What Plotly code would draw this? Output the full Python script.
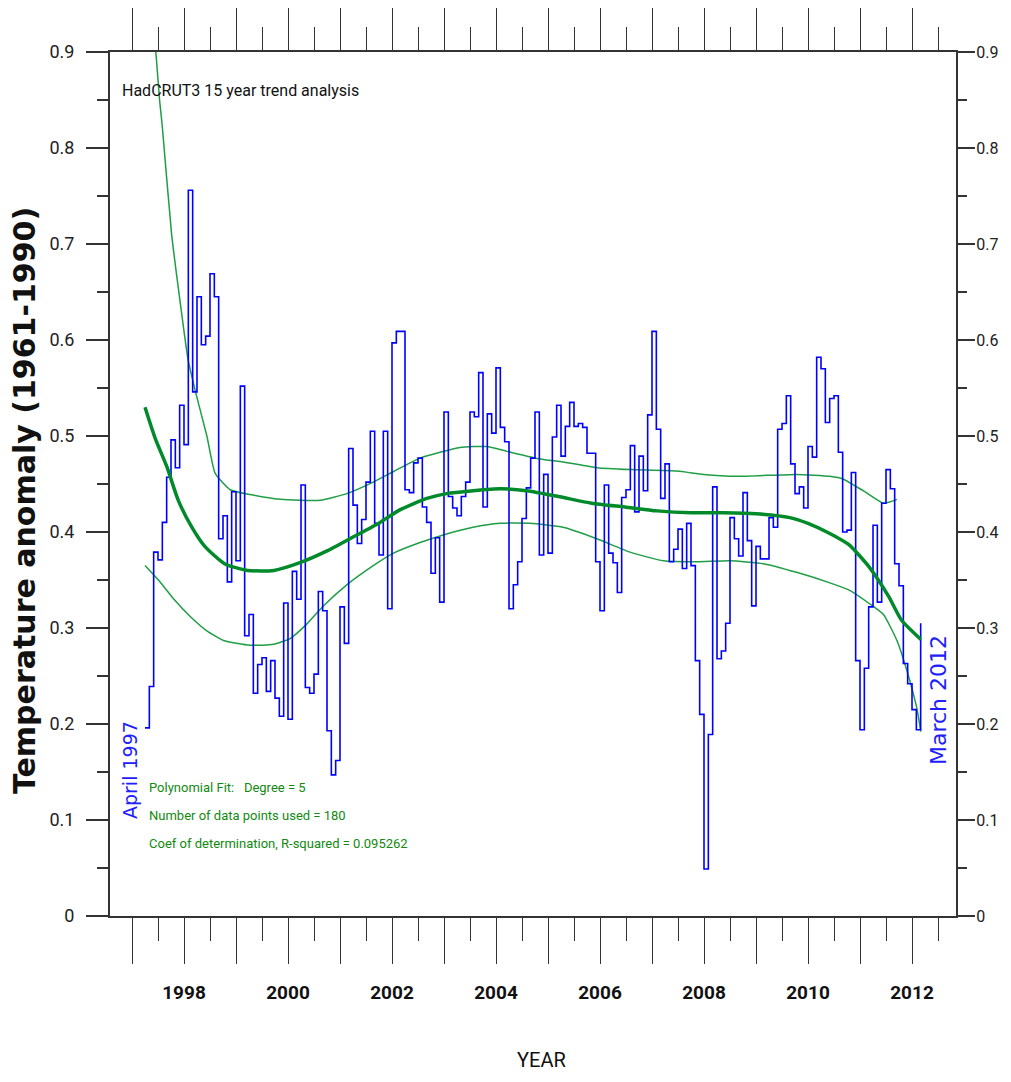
import plotly.graph_objects as go

# HadCRUT3 monthly global anomaly, April 1997 .. March 2012 (180 months)
hadcrut3 = [
    0.196, 0.239, 0.379, 0.371, 0.410, 0.457, 0.496, 0.467, 0.532,                  # 1997 Apr-Dec
    0.491, 0.756, 0.546, 0.645, 0.595, 0.604, 0.669, 0.645, 0.393, 0.417, 0.348, 0.442,  # 1998
    0.370, 0.552, 0.292, 0.314, 0.232, 0.262, 0.269, 0.234, 0.266, 0.227, 0.208, 0.326,  # 1999
    0.205, 0.359, 0.330, 0.449, 0.238, 0.232, 0.252, 0.338, 0.318, 0.193, 0.147, 0.162,  # 2000
    0.322, 0.284, 0.487, 0.428, 0.388, 0.413, 0.452, 0.505, 0.409, 0.376, 0.505, 0.320,  # 2001
    0.597, 0.609, 0.609, 0.444, 0.441, 0.472, 0.477, 0.426, 0.410, 0.357, 0.394, 0.327,  # 2002
    0.525, 0.437, 0.425, 0.417, 0.437, 0.452, 0.525, 0.520, 0.566, 0.426, 0.523, 0.503,  # 2003
    0.571, 0.509, 0.494, 0.320, 0.345, 0.369, 0.414, 0.446, 0.477, 0.525, 0.376, 0.460,  # 2004
    0.378, 0.499, 0.532, 0.479, 0.510, 0.535, 0.510, 0.513, 0.509, 0.482, 0.482, 0.369,  # 2005
    0.318, 0.449, 0.378, 0.368, 0.337, 0.436, 0.444, 0.490, 0.421, 0.479, 0.443, 0.522,  # 2006
    0.609, 0.507, 0.435, 0.471, 0.369, 0.382, 0.403, 0.362, 0.409, 0.365, 0.266, 0.210,  # 2007
    0.049, 0.189, 0.447, 0.268, 0.276, 0.305, 0.415, 0.393, 0.375, 0.441, 0.391, 0.323,  # 2008
    0.385, 0.372, 0.372, 0.415, 0.405, 0.507, 0.513, 0.542, 0.471, 0.440, 0.447, 0.425,  # 2009
    0.489, 0.478, 0.582, 0.570, 0.514, 0.539, 0.542, 0.483, 0.400, 0.402, 0.462, 0.266,  # 2010
    0.194, 0.258, 0.322, 0.407, 0.327, 0.430, 0.465, 0.445, 0.367, 0.344, 0.263, 0.242,  # 2011
    0.215, 0.194, 0.305,                                                             # 2012 Jan-Mar
]
first_year, first_month = 1997, 4
month_x = [first_year + (first_month - 1 + i) / 12 for i in range(len(hadcrut3))]

# polynomial fit (degree 5)
fit_year = [1997.25, 1997.45, 1997.67, 1997.89, 1998.15, 1998.40, 1998.78, 1999.22, 1999.73,
            2000.23, 2000.74, 2001.26, 2001.77, 2002.15, 2002.67, 2003.05, 2003.56, 2004.08,
            2004.59, 2005.20, 2005.84, 2006.48, 2007.10, 2007.75, 2008.37, 2009.00, 2009.65,
            2010.00, 2010.40, 2010.78, 2011.17, 2011.55, 2011.80, 2012.17]
fit_val = [0.530, 0.497, 0.468, 0.433, 0.405, 0.385, 0.367, 0.360, 0.360,
           0.368, 0.380, 0.395, 0.410, 0.423, 0.435, 0.440, 0.443, 0.445,
           0.443, 0.437, 0.430, 0.426, 0.422, 0.420, 0.420, 0.419, 0.415,
           0.409, 0.399, 0.387, 0.364, 0.333, 0.308, 0.288]

# upper and lower thin curves
upper_year = [1997.43, 1997.53, 1997.58, 1997.76, 1997.92, 1998.08, 1998.24, 1998.44, 1998.60,
              1998.89, 1999.27, 1999.85, 2000.62, 2001.13, 2001.64, 2002.03, 2002.54, 2003.31,
              2003.82, 2004.21, 2004.85, 2005.29, 2005.94, 2006.58, 2007.48, 2007.99, 2008.63,
              2009.78, 2010.42, 2010.68, 2011.06, 2011.45, 2011.71]
upper_val = [0.920, 0.850, 0.824, 0.711, 0.642, 0.579, 0.542, 0.500, 0.461,
             0.444, 0.439, 0.434, 0.433, 0.440, 0.452, 0.463, 0.477, 0.488,
             0.489, 0.484, 0.476, 0.473, 0.467, 0.465, 0.4635, 0.460, 0.458,
             0.460, 0.458, 0.455, 0.443, 0.430, 0.434]

lower_year = [1997.25, 1997.54, 1997.79, 1998.12, 1998.44, 1998.76, 1999.27, 1999.72, 2000.04,
              2000.36, 2000.68, 2001.13, 2001.64, 2002.03, 2002.54, 2003.05, 2003.56, 2004.08,
              2004.65, 2005.29, 2005.94, 2006.58, 2007.22, 2007.86, 2008.50, 2009.14, 2009.78,
              2010.42, 2010.81, 2011.19, 2011.45, 2011.71, 2011.90, 2012.09, 2012.17]
lower_val = [0.365, 0.348, 0.331, 0.312, 0.297, 0.287, 0.282, 0.283, 0.289,
             0.304, 0.323, 0.345, 0.365, 0.378, 0.389, 0.398, 0.405, 0.409,
             0.409, 0.405, 0.393, 0.379, 0.370, 0.369, 0.370, 0.367, 0.358,
             0.347, 0.339, 0.325, 0.314, 0.287, 0.256, 0.217, 0.192]

year_ticks = list(range(1997, 2013))
year_labels = [str(y) if y % 2 == 0 else "" for y in year_ticks]

FONT = "Roboto, Liberation Sans, Arial, sans-serif"
AX = "#333333"
GREEN_TXT = "#118a11"

fig = go.Figure()
fig.add_trace(go.Scatter(x=lower_year, y=lower_val, mode="lines",
                         line=dict(color="#1f9e45", width=1.5, shape="spline", smoothing=0.5),
                         hoverinfo="skip"))
fig.add_trace(go.Scatter(x=upper_year, y=upper_val, mode="lines",
                         line=dict(color="#1f9e45", width=1.5, shape="spline", smoothing=0.5),
                         hoverinfo="skip"))
fig.add_trace(go.Scatter(x=month_x, y=hadcrut3, mode="lines",
                         line=dict(color="#0000ff", width=1.6, shape="hv"),
                         name="HadCRUT3"))
fig.add_trace(go.Scatter(x=fit_year, y=fit_val, mode="lines",
                         line=dict(color="#008a2a", width=3.5, shape="spline", smoothing=0.6),
                         name="Polynomial fit"))
# dummy trace so the right-hand axis gets drawn
fig.add_trace(go.Scatter(x=[None], y=[None], yaxis="y2", showlegend=False))

anns = [
    dict(x=1996.77, y=0.860, text="HadCRUT3 15 year trend analysis", xanchor="left",
         font=dict(family=FONT, size=16, color="#111111")),
    dict(x=1997.29, y=0.134, text="Polynomial Fit:   Degree = 5", xanchor="left",
         font=dict(family=FONT, size=13, color=GREEN_TXT)),
    dict(x=1997.29, y=0.105, text="Number of data points used = 180", xanchor="left",
         font=dict(family=FONT, size=13, color=GREEN_TXT)),
    dict(x=1997.29, y=0.076, text="Coef of determination, R-squared = 0.095262", xanchor="left",
         font=dict(family=FONT, size=13, color=GREEN_TXT)),
    dict(x=1996.96, y=0.152, text="April 1997", textangle=-90,
         font=dict(family="DejaVu Sans, sans-serif", size=19, color="#2020ff")),
    dict(x=2012.5, y=0.225, text="March 2012", textangle=-90,
         font=dict(family="DejaVu Sans, sans-serif", size=22, color="#2020ff")),
    dict(xref="paper", yref="paper", x=-0.1005, y=0.4815, text="Temperature anomaly (1961-1990)",
         textangle=-90, font=dict(family="DejaVu Sans, sans-serif", size=30, color="#111111",
                                   weight="bold")),
    dict(xref="paper", yref="paper", x=0.5095, y=-0.1667, text="YEAR",
         font=dict(family=FONT, size=20, color="#111111")),
]
for a in anns:
    a.setdefault("xref", "x")
    a.setdefault("yref", "y")
    a.setdefault("xanchor", "center")
    a.setdefault("yanchor", "middle")
    a.update(showarrow=False)

yaxis_style = dict(range=[0, 0.9], tickmode="linear", tick0=0, dtick=0.1, ticks="outside",
                   ticklen=22, tickwidth=2, tickcolor=AX, showline=True, linecolor=AX,
                   linewidth=2, showgrid=False, zeroline=False, ticklabelstandoff=8,
                   automargin=False,
                   tickfont=dict(family=FONT, size=18, color="#222222"),
                   minor=dict(tickmode="linear", tick0=0.05, dtick=0.1, ticklen=11,
                              tickwidth=2, tickcolor=AX, ticks="outside"))

# right-hand axis: a bit shorter ticks and smaller labels so they stay inside the page
right_axis = dict(yaxis_style, overlaying="y", side="right", ticklen=17, ticklabelstandoff=-2,
                  tickfont=dict(family=FONT, size=16, color="#222222"),
                  minor=dict(tickmode="linear", tick0=0.05, dtick=0.1, ticklen=9,
                             tickwidth=2, tickcolor=AX, ticks="outside"))

# the page adds an 8px body margin; keep the page inside the window
fig.update_layout(
    width=995, height=1066,
    margin=dict(l=102, r=47, t=44, b=158),
    paper_bgcolor="white", plot_bgcolor="white",
    showlegend=False,
    annotations=anns,
    xaxis=dict(range=[1996.577, 2012.846], tickmode="array", tickvals=year_ticks,
               ticktext=year_labels, ticks="outside", ticklen=46, tickwidth=1.3,
               tickcolor=AX, showline=True, linecolor=AX, linewidth=2, mirror="ticks",
               showgrid=False, zeroline=False, ticklabelstandoff=12, automargin=False,
               tickfont=dict(family=FONT, size=19, color="#111111", weight="bold"),
               minor=dict(tickmode="linear", tick0=1996.5, dtick=1, ticklen=23,
                          tickwidth=1.3, tickcolor=AX, ticks="outside")),
    yaxis=yaxis_style,
    yaxis2=right_axis,
)

fig.write_html("out.html")
